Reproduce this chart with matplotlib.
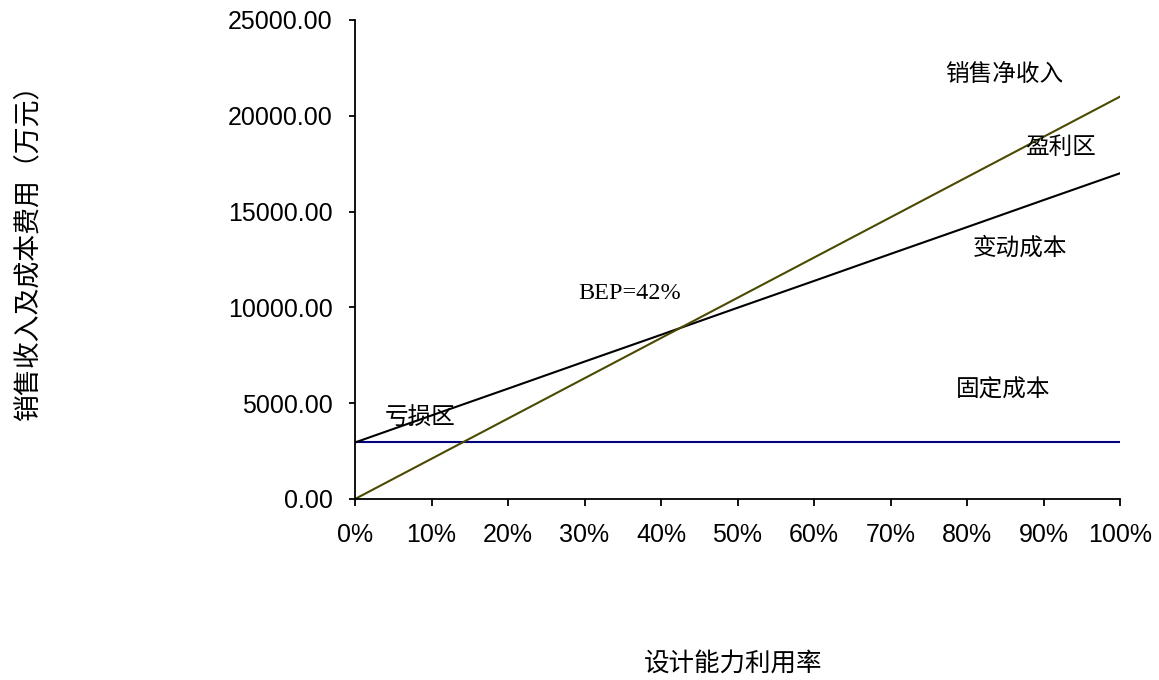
import matplotlib
matplotlib.use('Agg')
import matplotlib.pyplot as plt
import matplotlib.ticker as ticker

# Break-even chart data (万元), capacity utilisation 0%..100%
utilisation = ['0%', '10%', '20%', '30%', '40%', '50%', '60%', '70%', '80%', '90%', '100%']
revenue = [0, 2100, 4200, 6300, 8400, 10500, 12600, 14700, 16800, 18900, 21000]
total_cost = [2950, 4360, 5760, 7170, 8570, 9980, 11380, 12790, 14190, 15600, 17000]
fixed_cost = [2950, 2950, 2950, 2950, 2950, 2950, 2950, 2950, 2950, 2950, 2950]

cjk = ['Noto Sans CJK SC', 'DejaVu Sans']
serif = ['Liberation Serif']
plt.rcParams['font.family'] = ['Liberation Sans', 'DejaVu Sans']

fig = plt.figure(figsize=(11.59, 6.8), dpi=100)
ax = fig.add_axes([355 / 1159, 1 - 499 / 680, (1120 - 355) / 1159, (499 - 20) / 680])

x = list(range(len(utilisation)))
ax.plot(x, fixed_cost, color='#000080', lw=1.5)
ax.plot(x, total_cost, color='black', lw=1.5)
ax.plot(x, revenue, color='#4a4a00', lw=1.5)

ax.set_xlim(0, 10)
ax.set_ylim(0, 25000)
ax.set_xticks(x)
ax.set_xticklabels(utilisation)
ax.yaxis.set_major_locator(ticker.MultipleLocator(5000))
ax.yaxis.set_major_formatter(ticker.FormatStrFormatter('%.2f'))

for side in ['top', 'right']:
    ax.spines[side].set_visible(False)
for side in ['left', 'bottom']:
    ax.spines[side].set_linewidth(1.3)
ax.tick_params(axis='y', direction='out', length=4, width=1.3, pad=12, labelsize=18)
ax.tick_params(axis='x', direction='out', length=5, width=1.3, pad=12, labelsize=18)

# region and line annotations
ax.text(8.48, 22180, '销售净收入', family=cjk, fontsize=17, ha='center', va='center')
ax.text(9.22, 18370, '盈利区', family=cjk, fontsize=17, ha='center', va='center')
ax.text(8.69, 13100, '变动成本', family=cjk, fontsize=17, ha='center', va='center')
ax.text(3.59, 10750, 'BEP=42%', family=serif, fontsize=17.5, ha='center', va='center')
ax.text(8.47, 5690, '固定成本', family=cjk, fontsize=17, ha='center', va='center')
ax.text(0.85, 4230, '亏损区', family=cjk, fontsize=17, ha='center', va='center')

fig.text(733 / 1159, 1 - 664 / 680, '设计能力利用率', family=cjk, fontsize=18.4,
         ha='center', va='center')
fig.text(28 / 1159, 1 - 246 / 680, '销售收入及成本费用（万元）', family=cjk, fontsize=19.4,
         ha='center', va='center', rotation=90)

plt.savefig('out.png', dpi=100)
